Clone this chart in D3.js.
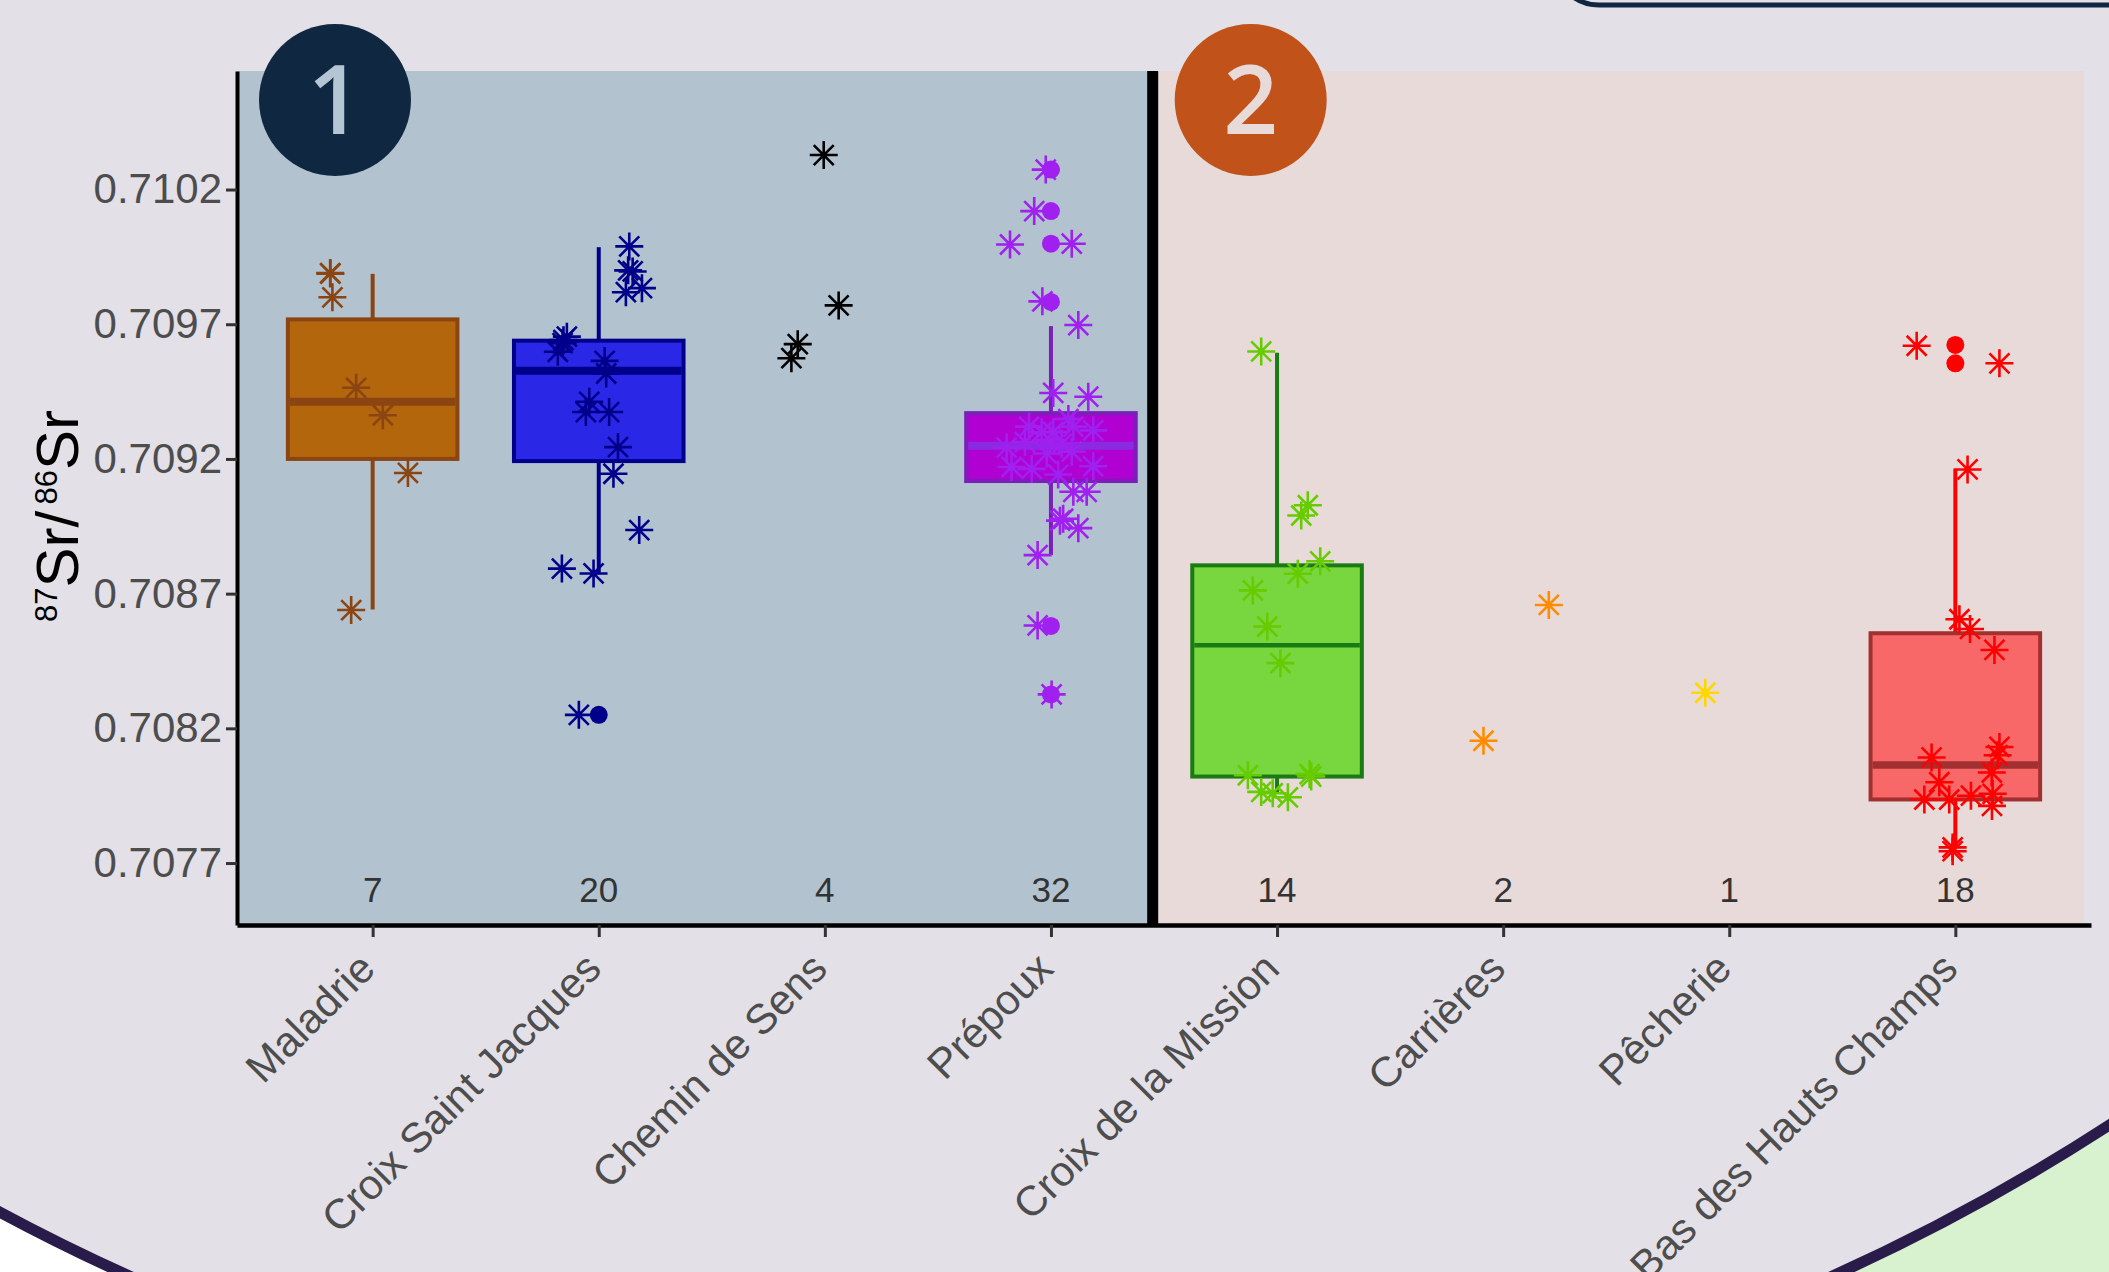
<!DOCTYPE html>
<html>
<head>
<meta charset="utf-8">
<script src="https://cdn.jsdelivr.net/npm/d3@7"></script>
<style>
  html, body { margin: 0; padding: 0; background: #e3e0e7; }
  svg { display: block; font-family: "Liberation Sans", Arial, sans-serif; }
</style>
</head>
<body>
<svg id="chart" width="2109" height="1272"></svg>
<script>
// ---- data ----
var sites = ["Maladrie", "Croix Saint Jacques", "Chemin de Sens", "Prépoux",
             "Croix de la Mission", "Carrières", "Pêcherie", "Bas des Hauts Champs"];
var counts = [7, 20, 4, 32, 14, 2, 1, 18];
var yTicks = [0.7077, 0.7082, 0.7087, 0.7092, 0.7097, 0.7102];

// [lower whisker, q1, median, q3, upper whisker], null = no box drawn
var boxStats = [
  [0.708641, 0.709200, 0.709412, 0.709718, 0.709887],
  [0.708772, 0.709192, 0.709527, 0.709639, 0.709986],
  null,
  [0.708843, 0.709118, 0.709249, 0.709370, 0.709693],
  [0.707960, 0.708021, 0.708508, 0.708805, 0.709594],
  null,
  null,
  [0.707758, 0.707936, 0.708064, 0.708553, 0.709161]
];

var outliers = [
  [],
  [0.708250],
  [],
  [0.710274, 0.710120, 0.709999, 0.709783, 0.708580, 0.708326],
  [],
  [],
  [],
  [0.709623, 0.709555]
];

// jittered samples: [jitter (fraction of category step), 87Sr/86Sr]
var ptsMaladrie = [[-0.188, 0.709890], [-0.187, 0.709888], [-0.178, 0.709800], [-0.073, 0.709464],
  [0.045, 0.709362], [0.156, 0.709148], [-0.095, 0.708639]];
var ptsCroixSJ = [[0.135, 0.709989], [0.150, 0.709896], [0.130, 0.709900], [0.120, 0.709819], [0.191, 0.709834],
  [-0.156, 0.709641], [-0.141, 0.709654], [-0.160, 0.709630], [-0.181, 0.709598], [0.026, 0.709564],
  [0.033, 0.709517], [-0.042, 0.709412], [-0.057, 0.709374], [0.046, 0.709374], [0.085, 0.709244],
  [0.065, 0.709145], [0.179, 0.708936], [-0.163, 0.708793], [-0.023, 0.708775], [-0.088, 0.708250]];
var ptsChemin = [[-0.005, 0.710328], [0.061, 0.709770], [-0.120, 0.709626], [-0.148, 0.709574]];
var ptsPrepoux = [[-0.023, 0.710274], [-0.074, 0.710120], [-0.181, 0.709996], [0.092, 0.709999],
  [-0.038, 0.709785], [0.121, 0.709697], [0.010, 0.709445], [0.165, 0.709431],
  [-0.097, 0.709320], [-0.041, 0.709299], [0.077, 0.709348], [0.099, 0.709320], [0.187, 0.709306],
  [-0.196, 0.709242], [-0.115, 0.709263], [-0.004, 0.709270], [0.047, 0.709256], [-0.019, 0.709220],
  [0.092, 0.709227], [-0.174, 0.709170], [-0.085, 0.709163], [0.032, 0.709142], [0.187, 0.709173],
  [0.010, 0.709300], [0.099, 0.709078], [0.158, 0.709078], [0.054, 0.708978], [0.040, 0.708971],
  [0.121, 0.708943], [-0.059, 0.708843], [-0.059, 0.708582], [0.003, 0.708326]];
var ptsMission = [[-0.070, 0.709599], [0.136, 0.709028], [0.107, 0.708990], [0.191, 0.708820],
  [0.092, 0.708774], [-0.107, 0.708712], [-0.043, 0.708578], [0.015, 0.708442], [-0.129, 0.708026],
  [0.144, 0.708030], [0.151, 0.708021], [-0.070, 0.707964], [-0.019, 0.707959], [0.048, 0.707944]];
var ptsCarrieres = [[0.202, 0.708658], [-0.087, 0.708154]];
var ptsPecherie = [[-0.106, 0.708332]];
var ptsHauts = [[-0.171, 0.709620], [0.195, 0.709555], [0.054, 0.709161], [0.018, 0.708605],
  [0.065, 0.708569], [0.173, 0.708491], [-0.105, 0.708092], [0.195, 0.708131], [0.187, 0.708100],
  [0.161, 0.708036], [-0.071, 0.708000], [-0.137, 0.707936], [-0.027, 0.707936], [0.069, 0.707950],
  [0.165, 0.707957], [0.162, 0.707912], [-0.012, 0.707758], [-0.012, 0.707744]];
var points = [ptsMaladrie, ptsCroixSJ, ptsChemin, ptsPrepoux, ptsMission, ptsCarrieres, ptsPecherie, ptsHauts];

// ---- styles ----
var boxFill    = ["#b3660c", "#2a28e6", null, "#b000d2", "#78d63e", null, null, "#f86868"];
var boxStroke  = ["#8b4513", "#00008b", null, "#7a1fb8", "#1a7a14", null, null, "#a23030"];
var medColor   = ["#8b4513", "#00008b", null, "#8a2be2", "#1a7a14", null, null, "#a23030"];
var medWidth   = [8, 8, 0, 8, 4.5, 0, 0, 7.5];
var whiskColor = ["#8b4513", "#00008b", null, "#7a1fb8", "#1a7a14", null, null, "#ff0000"];
var ptColor    = ["#8b4513", "#00008b", "#000000", "#a020f0", "#66cc00", "#ff8c00", "#ffd700", "#ff0000"];

var W = 2109, H = 1272;
var svg = d3.select("#chart");

// ---- page decoration ----
svg.append("rect").attr("x", 0).attr("y", 0).attr("width", W / 2).attr("height", H).attr("fill", "#ffffff");
svg.append("rect").attr("x", W / 2).attr("y", 0).attr("width", W / 2).attr("height", H).attr("fill", "#d8f2d0");
svg.append("circle")
  .attr("cx", 981).attr("cy", -614).attr("r", 2073)
  .attr("fill", "#e3e0e7").attr("stroke", "#2a1c4a").attr("stroke-width", 11);
svg.append("rect")
  .attr("x", 1554).attr("y", -200).attr("width", 700).attr("height", 205).attr("rx", 45)
  .attr("fill", "none").attr("stroke", "#0f2740").attr("stroke-width", 5);

// ---- scales ----
var plotLeft = 237, plotRight = 2091, plotTop = 71, plotBottom = 925;
var x = d3.scalePoint().domain(sites).range([plotLeft, plotRight]).padding(0.6);
var step = x.step();
var y = d3.scaleLinear().domain([0.70747, 0.71064]).range([plotBottom, plotTop]);

// panel backgrounds
var divX = x(sites[3]) + 0.45 * step;
var panelRight = x(sites[7]) + 0.57 * step;
svg.append("rect").attr("x", plotLeft).attr("y", plotTop)
  .attr("width", divX - plotLeft).attr("height", plotBottom - plotTop).attr("fill", "#b2c2cf");
svg.append("rect").attr("x", divX).attr("y", plotTop)
  .attr("width", panelRight - divX).attr("height", plotBottom - plotTop).attr("fill", "#e8dad9");
svg.append("line").attr("x1", divX).attr("x2", divX).attr("y1", plotTop).attr("y2", plotBottom)
  .attr("stroke", "#000").attr("stroke-width", 11);

// ---- boxes ----
var boxW = 0.75 * step;
var g = svg.append("g");
sites.forEach(function(s, i) {
  var b = boxStats[i];
  if (!b) return;
  var cx = x(s);
  g.append("line").attr("x1", cx).attr("x2", cx).attr("y1", y(b[0])).attr("y2", y(b[1]))
    .attr("stroke", whiskColor[i]).attr("stroke-width", 4);
  g.append("line").attr("x1", cx).attr("x2", cx).attr("y1", y(b[3])).attr("y2", y(b[4]))
    .attr("stroke", whiskColor[i]).attr("stroke-width", 4);
  g.append("rect").attr("x", cx - boxW / 2).attr("y", y(b[3]))
    .attr("width", boxW).attr("height", y(b[1]) - y(b[3]))
    .attr("fill", boxFill[i]).attr("stroke", boxStroke[i]).attr("stroke-width", 4);
  g.append("line").attr("x1", cx - boxW / 2 + 2).attr("x2", cx + boxW / 2 - 2)
    .attr("y1", y(b[2])).attr("y2", y(b[2]))
    .attr("stroke", medColor[i]).attr("stroke-width", medWidth[i]);
});

// outliers
sites.forEach(function(s, i) {
  g.selectAll(null).data(outliers[i]).enter().append("circle")
    .attr("cx", x(s)).attr("cy", function(d) { return y(d); })
    .attr("r", 9).attr("fill", ptColor[i]);
});

// jittered asterisks
var star = "M0,-14V14M-14,0H14M-10,-10L10,10M-10,10L10,-10";
sites.forEach(function(s, i) {
  g.selectAll(null).data(points[i]).enter().append("path")
    .attr("d", star)
    .attr("transform", function(d) { return "translate(" + (x(s) + d[0] * step) + "," + y(d[1]) + ")"; })
    .attr("fill", "none").attr("stroke", ptColor[i]).attr("stroke-width", 2.6);
});

// counts
svg.selectAll(".count").data(counts).enter().append("text")
  .attr("class", "count")
  .attr("x", function(d, i) { return x(sites[i]); })
  .attr("y", 902)
  .attr("text-anchor", "middle")
  .attr("font-size", 35)
  .attr("fill", "#333333")
  .text(function(d) { return d; });

// ---- axes ----
var yAxis = svg.append("g").attr("transform", "translate(" + plotLeft + ",0)")
  .call(d3.axisLeft(y).tickValues(yTicks).tickFormat(d3.format(".4f")).tickSize(11).tickSizeOuter(0).tickPadding(4));
yAxis.select(".domain").attr("stroke", "#000").attr("stroke-width", 4);
yAxis.selectAll(".tick line").attr("stroke", "#333").attr("stroke-width", 3);
yAxis.selectAll(".tick text").attr("font-size", 42).attr("fill", "#4d4d4d")
  .attr("font-family", "Liberation Sans, Arial, sans-serif");

var xAxis = svg.append("g").attr("transform", "translate(0," + plotBottom + ")")
  .call(d3.axisBottom(x).tickSize(12).tickSizeOuter(0));
xAxis.select(".domain").attr("stroke", "#000").attr("stroke-width", 4.5);
xAxis.selectAll(".tick line").attr("stroke", "#333").attr("stroke-width", 3);
xAxis.selectAll(".tick text")
  .attr("font-size", 42).attr("fill", "#4d4d4d")
  .attr("font-family", "Liberation Sans, Arial, sans-serif")
  .attr("text-anchor", "end")
  .attr("dy", null).attr("y", 0)
  .attr("transform", "translate(4,46) rotate(-45)");

// y title
var title = svg.append("text")
  .attr("transform", "translate(78,516) rotate(-90)")
  .attr("text-anchor", "middle").attr("font-size", 60).attr("fill", "#000");
title.append("tspan").attr("font-size", 31).attr("dy", -21).text("87");
title.append("tspan").attr("dy", 21).text("Sr/");
title.append("tspan").attr("font-size", 31).attr("dy", -21).text("\u200986");
title.append("tspan").attr("dy", 21).text("Sr");

// ---- numbered badges ----
var badges = [{ label: "1", left: plotLeft, fill: "#0f2740", ink: "#b4c6d4" },
              { label: "2", left: divX, fill: "#c0521a", ink: "#e8dad8" }];
badges.forEach(function(b) {
  svg.append("circle").attr("cx", b.left + 98).attr("cy", 100).attr("r", 76).attr("fill", b.fill);
  svg.append("text").attr("x", b.left + 98).attr("y", 134)
    .attr("text-anchor", "middle").attr("font-size", 96).attr("font-weight", 600)
    .attr("font-family", "Open Sans, DejaVu Sans, sans-serif")
    .attr("fill", b.ink).text(b.label);
});
</script>
</body>
</html>
